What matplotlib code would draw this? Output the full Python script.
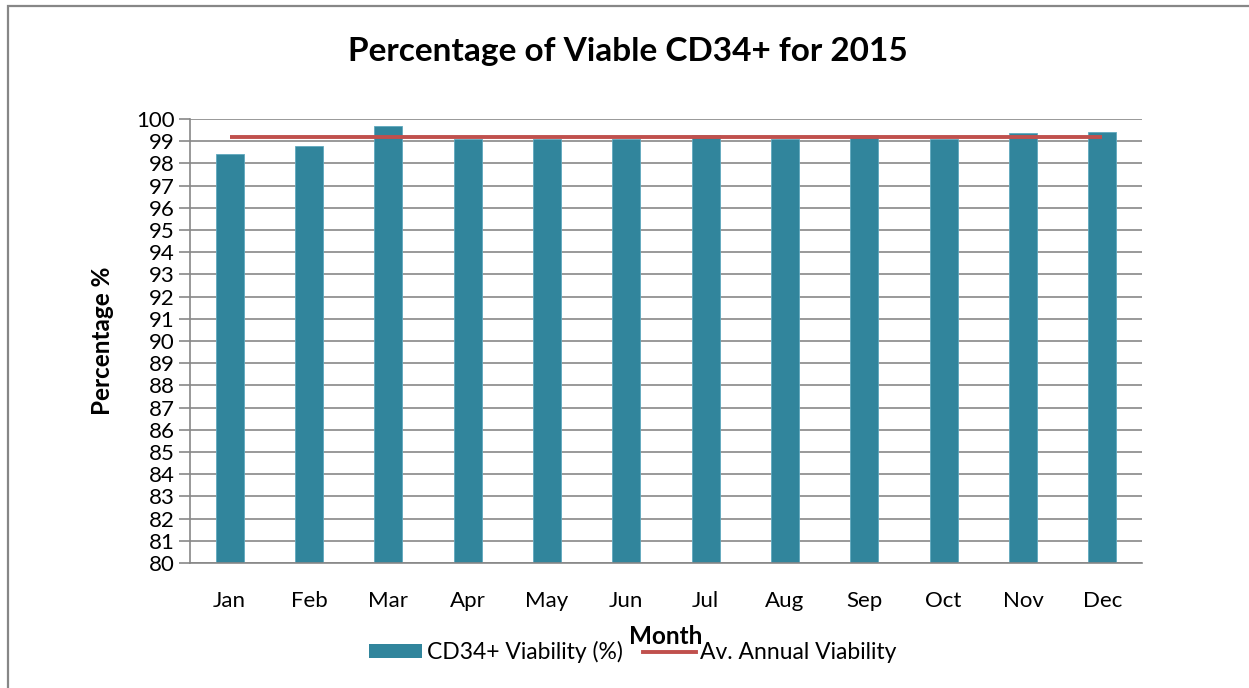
import matplotlib
matplotlib.use("Agg")
import matplotlib.pyplot as plt
from matplotlib.patches import Rectangle, Patch
from matplotlib.lines import Line2D

plt.rcParams['font.family'] = ['Lato', 'DejaVu Sans']

months = ["Jan", "Feb", "Mar", "Apr", "May", "Jun", "Jul", "Aug", "Sep", "Oct", "Nov", "Dec"]
viability = [98.41, 98.80, 99.67, 99.12, 99.12, 99.12, 99.28, 99.12, 99.28, 99.12, 99.37, 99.41]
annual_avg = 99.17
yticks = list(range(80, 101))

W, H = 1249, 688
fig = plt.figure(figsize=(W / 100, H / 100), dpi=100)

# outer border of the chart area (extends past right and bottom edge)
fig.patches.append(Rectangle((8 / W, -0.05), 1.1, 1 - 6 / H + 0.05, transform=fig.transFigure,
                             fill=False, edgecolor='#878787', linewidth=1.6))
# clipped caption at the very top
fig.text(12 / W, 1 + 14 / H, "Figure 1 (a)", color='#1F3864', fontsize=20, fontweight='bold',
         ha='left', va='baseline')

ax = fig.add_axes([190 / W, 1 - 563 / H, (1142 - 190) / W, (563 - 119) / H])

x = list(range(len(months)))
ax.bar(x, viability, width=0.35, color='#31859C', edgecolor='#5FA9BE', linewidth=0.6, zorder=2)
ax.plot([x[0], x[-1]], [annual_avg, annual_avg], color='#C0504D', linewidth=2.8, zorder=3,
        solid_capstyle='butt')

ax.set_ylim(80, 100)
ax.set_xlim(-0.5, len(months) - 0.5)
ax.set_yticks(yticks)
ax.set_yticklabels([str(t) for t in yticks], fontsize=16)
ax.set_xticks(x)
ax.set_xticklabels(months, fontsize=16)
ax.tick_params(axis='x', length=0, pad=20)
ax.tick_params(axis='y', length=8, width=1.2, color='#878787', pad=3)
ax.yaxis.grid(True, color='#878787', linewidth=1.2, zorder=0)
ax.set_axisbelow(True)
for s in ['top', 'right']:
    ax.spines[s].set_visible(False)
for s in ['left', 'bottom']:
    ax.spines[s].set_color('#878787')
    ax.spines[s].set_linewidth(1.2)

fig.text(628 / W, 1 - 52 / H, "Percentage of Viable CD34+ for 2015", fontsize=24,
         fontweight='bold', ha='center', va='center')
fig.text(102 / W, 1 - 341 / H, "Percentage %", fontsize=17.5, fontweight='bold',
         rotation=90, ha='center', va='center')
fig.text(666 / W, 1 - 637 / H, "Month", fontsize=17.5, fontweight='bold',
         ha='center', va='center')

handles = [Patch(facecolor='#31859C', edgecolor='none'),
           Line2D([0], [0], color='#C0504D', linewidth=2.8)]
fig.legend(handles, ["CD34+ Viability (%)", "Av. Annual Viability"], loc='center',
           bbox_to_anchor=(633 / W, 1 - 652 / H), ncol=2, frameon=False, fontsize=16.5,
           handlelength=2.3, handleheight=0.55, handletextpad=0.2, columnspacing=0.9)

fig.savefig("out.png", dpi=100)
